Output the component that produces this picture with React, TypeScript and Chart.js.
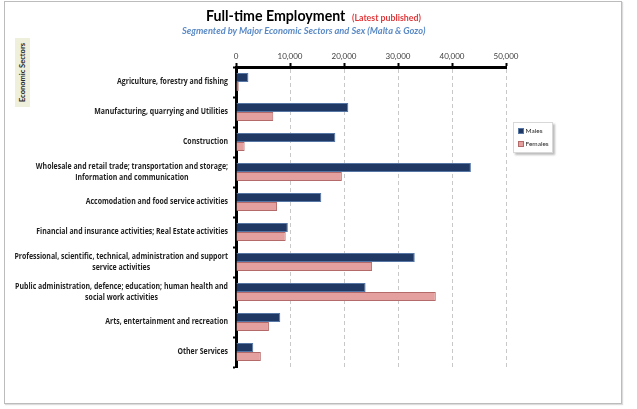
import React, { useEffect, useRef } from "react";
import { Chart, registerables } from "chart.js";

Chart.register(...registerables);

const categories: string[][] = [
  ["Agriculture, forestry and fishing"],
  ["Manufacturing, quarrying and Utilities"],
  ["Construction"],
  ["Wholesale and retail trade; transportation and storage;", "Information and communication"],
  ["Accomodation and food service activities"],
  ["Financial and insurance activities; Real Estate activities"],
  ["Professional, scientific, technical, administration and support", "service activities"],
  ["Public administration, defence; education; human health and", "social work activities"],
  ["Arts, entertainment and recreation"],
  ["Other Services"],
];

const males: number[] = [2300, 20800, 18400, 43500, 15800, 9600, 33100, 24000, 8200, 3200];
const females: number[] = [500, 6900, 1600, 19600, 7600, 9200, 25200, 37000, 6100, 4600];

const xTicks: number[] = [0, 10000, 20000, 30000, 40000, 50000];

const FONT = "Lato, 'Open Sans', sans-serif";
const LABEL_FONT = "'Open Sans', 'Noto Sans', sans-serif";

const labelPlugin = {
  id: "catLabels",
  afterDraw(chart: any) {
    const ctx = chart.ctx;
    const y = chart.scales.y;
    ctx.save();
    ctx.font = `bold 8.5px ${LABEL_FONT}`;
    ctx.fillStyle = "#1e1e1e";
    ctx.textBaseline = "middle";
    ctx.textAlign = "center";
    const refW = ctx.measureText("Agriculture, forestry and fishing").width;
    const sx = 111 / refW;
    const right = y.right - 8;
    const lh = 10.4;
    categories.forEach((lines, i) => {
      const cy = y.getPixelForValue(i);
      const maxW = Math.max(...lines.map((l) => ctx.measureText(l).width * sx));
      const cx = right - maxW / 2;
      lines.forEach((l, j) => {
        const ly = cy + (j - (lines.length - 1) / 2) * lh;
        ctx.save();
        ctx.translate(cx, ly);
        ctx.scale(sx, 1);
        ctx.fillText(l, 0, 0);
        ctx.restore();
      });
    });
    ctx.restore();
  },
};

export default function App() {
  const ref = useRef<HTMLCanvasElement | null>(null);
  useEffect(() => {
    if (!ref.current) return;
    const chart = new Chart(ref.current, {
      type: "bar",
      data: {
        labels: categories.map((c) => c.join(" ")),
        datasets: [
          {
            label: "Males",
            data: males,
            backgroundColor: "#1F3864",
            borderColor: "#5676A6",
            borderWidth: 1,
            categoryPercentage: 0.6,
            barPercentage: 1,
          },
          {
            label: "Females",
            data: females,
            backgroundColor: "#E3A09E",
            borderColor: "#B46A68",
            borderWidth: 1,
            categoryPercentage: 0.6,
            barPercentage: 1,
          },
        ],
      },
      options: {
        indexAxis: "y",
        animation: false,
        responsive: false,
        maintainAspectRatio: false,
        layout: { padding: { left: 0, right: 131, top: 0, bottom: 42 } },
        plugins: { legend: { display: false }, tooltip: { enabled: false } },
        scales: {
          x: {
            position: "top",
            min: 0,
            max: 50000,
            afterBuildTicks: (s: any) => {
              s.ticks = xTicks.map((v) => ({ value: v }));
            },
            ticks: {
              callback: (v: any) => Number(v).toLocaleString("en-US"),
              font: { size: 8, family: FONT },
              color: "#404040",
              padding: 2,
              maxRotation: 0,
            },
            grid: {
              color: "#c8c8c8",
              lineWidth: 1,
              tickColor: "#000",
              tickLength: 4,
              tickWidth: 2,
              drawOnChartArea: true,
            },
            border: { color: "#000", width: 3, dash: [4, 3] },
            afterFit: (s: any) => {
              s.height = 67;
            },
          },
          y: {
            ticks: { color: "rgba(0,0,0,0)", font: { size: 9, family: FONT } },
            grid: {
              drawOnChartArea: false,
              tickColor: "#000",
              tickLength: 3,
              tickWidth: 2,
              color: "#000",
            },
            border: { color: "#000", width: 3 },
            afterFit: (s: any) => {
              s.width = 236;
            },
          },
        },
      } as any,
      plugins: [labelPlugin],
    });
    return () => chart.destroy();
  }, []);

  return (
    <div style={{ position: "fixed", left: 0, top: 0, width: 637, height: 409, background: "#fff", fontFamily: FONT }}>
      <div
        style={{
          position: "absolute",
          left: 4,
          top: 1,
          width: 616,
          height: 401,
          border: "1px solid #bcbcbc",
          boxShadow: "1px 1px 1px #dcdcdc",
        }}
      />
      <canvas ref={ref} width={637} height={409} style={{ position: "absolute", left: 0, top: 0 }} />
      <div
        style={{
          position: "absolute",
          left: 0,
          top: 8,
          width: 637,
          textAlign: "center",
          whiteSpace: "nowrap",
          lineHeight: "16px",
        }}
      >
        <span style={{ position: "absolute", left: 206, top: 0, fontWeight: 700, fontSize: 14.2, color: "#000" }}>
          Full-time Employment
        </span>
        <span style={{ position: "absolute", left: 352, top: 2, fontWeight: 700, fontSize: 8.8, color: "#E0383A" }}>
          (Latest published)
        </span>
      </div>
      <div
        style={{
          position: "absolute",
          left: 182,
          top: 25,
          whiteSpace: "nowrap",
          fontWeight: 700,
          fontStyle: "italic",
          fontSize: 9.3,
          color: "#5A8AC6",
          lineHeight: "12px",
        }}
      >
        Segmented by Major Economic Sectors and Sex (Malta &amp; Gozo)
      </div>
      <div
        style={{
          position: "absolute",
          left: 15,
          top: 38,
          width: 15,
          height: 69,
          background: "#EEF0DC",
          display: "flex",
          alignItems: "center",
          justifyContent: "center",
        }}
      >
        <span
          style={{
            writingMode: "vertical-rl",
            transform: "rotate(180deg)",
            fontWeight: 700,
            fontSize: 7.5,
            color: "#262626",
            whiteSpace: "nowrap",
          }}
        >
          Economic Sectors
        </span>
      </div>
      <div
        style={{
          position: "absolute",
          left: 513,
          top: 122,
          width: 38,
          height: 29,
          border: "1px solid #d8d8d8",
          boxShadow: "2px 2px 2px #bdbdbd",
          background: "#fff",
          fontSize: 6.5,
          color: "#262626",
        }}
      >
        {[
          { name: "Males", fill: "#1F3864", stroke: "#5676A6", top: 4 },
          { name: "Females", fill: "#E3A09E", stroke: "#B46A68", top: 17 },
        ].map((it) => (
          <div key={it.name} style={{ position: "absolute", left: 4, top: it.top, display: "flex", alignItems: "center", whiteSpace: "nowrap" }}>
            <span style={{ display: "inline-block", width: 4, height: 4, background: it.fill, border: `1px solid ${it.stroke}`, marginRight: 1.5 }} />
            <span style={{ lineHeight: "8px" }}>{it.name}</span>
          </div>
        ))}
      </div>
    </div>
  );
}
